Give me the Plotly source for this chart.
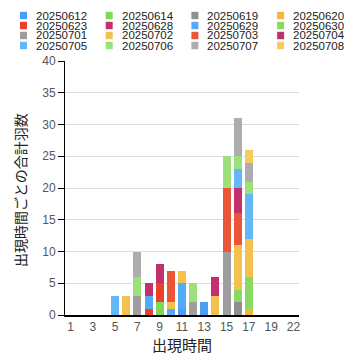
import plotly.graph_objects as go

hours = ["1", "2", "3", "4", "5", "6", "7", "8", "9", "10", "11", "12", "13", "14",
         "15", "16", "17", "18", "19", "20", "22"]
tick_labels = ["1", "3", "5", "7", "9", "11", "13", "15", "17", "19", "22"]

#            1  2  3  4  5  6  7  8  9 10 11 12 13 14 15  16 17 18 19 20 22
d20250612 = [0, 0, 0, 0, 0, 0, 0, 0, 0, 0, 1, 0, 2, 0, 0, 0, 0, 0, 0, 0, 0]
d20250614 = [0, 0, 0, 0, 0, 0, 0, 0, 2, 0, 0, 0, 0, 0, 0, 0, 0, 0, 0, 0, 0]
d20250619 = [0, 0, 0, 0, 0, 0, 0, 0, 0, 0, 0, 0, 0, 0, 0, 2, 0, 0, 0, 0, 0]
d20250620 = [0, 0, 0, 0, 0, 0, 0, 0, 0, 0, 0, 0, 0, 0, 0, 0, 1, 0, 0, 0, 0]
d20250623 = [0, 0, 0, 0, 0, 0, 0, 1, 3, 0, 0, 0, 0, 0, 0, 0, 0, 0, 0, 0, 0]
d20250628 = [0, 0, 0, 0, 0, 0, 0, 0, 3, 0, 0, 0, 0, 0, 0, 0, 0, 0, 0, 0, 0]
d20250629 = [0, 0, 0, 0, 0, 0, 0, 2, 0, 1, 4, 0, 0, 0, 0, 0, 0, 0, 0, 0, 0]
d20250630 = [0, 0, 0, 0, 0, 0, 0, 0, 0, 0, 0, 0, 0, 0, 0, 2, 5, 0, 0, 0, 0]
d20250701 = [0, 0, 0, 0, 0, 0, 3, 0, 0, 0, 0, 2, 0, 0, 10, 0, 0, 0, 0, 0, 0]
d20250702 = [0, 0, 0, 0, 0, 3, 0, 0, 0, 1, 2, 0, 0, 3, 0, 7, 6, 0, 0, 0, 0]
d20250703 = [0, 0, 0, 0, 0, 0, 0, 0, 0, 5, 0, 0, 0, 0, 10, 5, 0, 0, 0, 0, 0]
d20250704 = [0, 0, 0, 0, 0, 0, 0, 2, 0, 0, 0, 0, 0, 3, 0, 4, 0, 0, 0, 0, 0]
d20250705 = [0, 0, 0, 0, 3, 0, 0, 0, 0, 0, 0, 0, 0, 0, 0, 3, 7, 0, 0, 0, 0]
d20250706 = [0, 0, 0, 0, 0, 0, 3, 0, 0, 0, 0, 3, 0, 0, 5, 2, 2, 0, 0, 0, 0]
d20250707 = [0, 0, 0, 0, 0, 0, 4, 0, 0, 0, 0, 0, 0, 0, 0, 6, 3, 0, 0, 0, 0]
d20250708 = [0, 0, 0, 0, 0, 0, 0, 0, 0, 0, 0, 0, 0, 0, 0, 0, 2, 0, 0, 0, 0]

series_names = ["20250612", "20250614", "20250619", "20250620",
                "20250623", "20250628", "20250629", "20250630",
                "20250701", "20250702", "20250703", "20250704",
                "20250705", "20250706", "20250707", "20250708"]
series_values = [d20250612, d20250614, d20250619, d20250620,
                 d20250623, d20250628, d20250629, d20250630,
                 d20250701, d20250702, d20250703, d20250704,
                 d20250705, d20250706, d20250707, d20250708]
colors = ["#4A9FF5", "#7ED957", "#8F8F8F", "#F0B93B",
          "#E8412C", "#C2306F", "#52ABF7", "#8ADA62",
          "#9E9E9E", "#F2C14E", "#EA5538", "#C3306F",
          "#64B8F8", "#9BE07A", "#ADADAD", "#F4CC5C"]

W, H = 358, 363
L, R, T, B = 65, 299, 61, 315

fig = go.Figure()
for name, vals, col in zip(series_names, series_values, colors):
    fig.add_trace(go.Bar(x=hours, y=vals, name=name, marker_color=col,
                         marker_line_width=0, showlegend=False))

def px(x):
    return (x - L) / (R - L)

def py(y):
    return (B - y) / (B - T)

shapes = []
annotations = []
for i, (name, col) in enumerate(zip(series_names, colors)):
    c, r = i % 4, i // 4
    bx = 20 + c * 85.7
    cy = 15.5 + r * 10
    shapes.append(dict(type="rect", xref="paper", yref="paper",
                       x0=px(bx), x1=px(bx + 7), y0=py(cy + 3.7), y1=py(cy - 3.7),
                       fillcolor=col, line_width=0))
    annotations.append(dict(text=name, xref="paper", yref="paper",
                            x=px(bx + 14), y=py(cy), xanchor="left", yanchor="middle",
                            showarrow=False, font=dict(size=11.5, color="#222",
                                                       family="Arial")))

annotations.append(dict(text="出現時間ごとの合計羽数", xref="paper", yref="paper",
                        x=px(20), y=py(190), textangle=-90, xanchor="center",
                        yanchor="middle", showarrow=False,
                        font=dict(size=14, color="#222", family="Noto Sans CJK JP")))
annotations.append(dict(text="出現時間", xref="paper", yref="paper",
                        x=px(182), y=py(344), xanchor="center", yanchor="middle",
                        showarrow=False,
                        font=dict(size=15, color="#222", family="Noto Sans CJK JP")))

fig.update_layout(
    width=W, height=H,
    margin=dict(l=L, r=W - R, t=T, b=H - B, pad=0),
    barmode="stack", bargap=0.28,
    plot_bgcolor="white", paper_bgcolor="white",
    shapes=shapes, annotations=annotations,
    font=dict(family="Arial", size=12, color="#666"),
    xaxis=dict(type="category", categoryorder="array", categoryarray=hours,
               tickvals=tick_labels, ticktext=tick_labels,
               showgrid=False, showline=True, linecolor="#000", linewidth=1.5,
               ticks="", zeroline=False,
               tickfont=dict(size=12, color="#555")),
    yaxis=dict(range=[0, 40], dtick=5, showgrid=True, gridcolor="#DDDDDD",
               gridwidth=1, showline=True, linecolor="#000", linewidth=1,
               ticks="outside", ticklen=6, tickcolor="#000", zeroline=False,
               tickfont=dict(size=12, color="#555")),
)

fig.write_html("out.html", config={"displayModeBar": False},
               post_script="document.body.style.margin='0';document.body.style.overflow='hidden';")
